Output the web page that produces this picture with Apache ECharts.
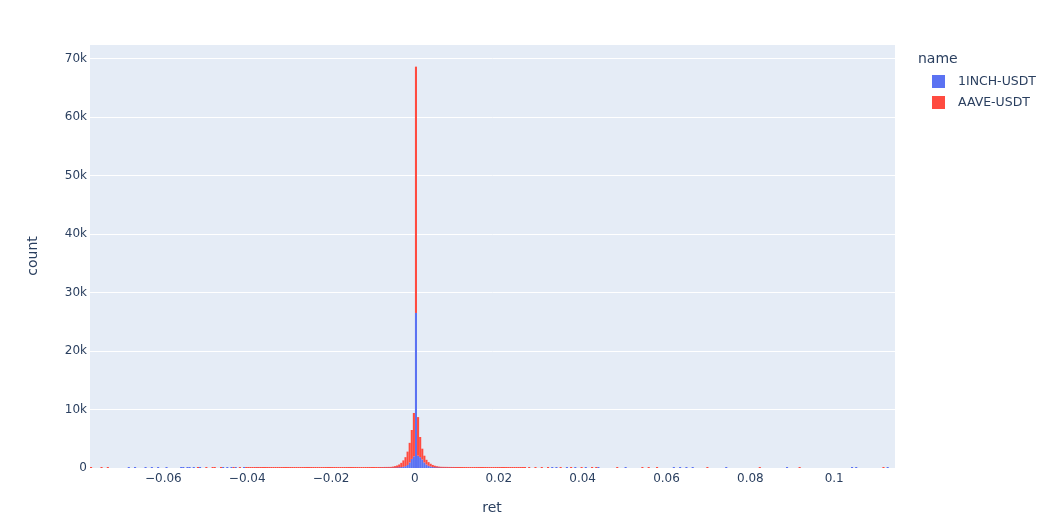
<!DOCTYPE html>
<html>
<head>
<meta charset="utf-8">
<script src="https://cdn.jsdelivr.net/npm/echarts@6/dist/echarts.min.js"></script>
<style>
html,body{margin:0;padding:0;background:#fff;}
#chart{width:1053px;height:523px;}
</style>
</head>
<body>
<div id="chart"></div>
<script>
// ---- data ----
const seriesNames = ['1INCH-USDT', 'AAVE-USDT'];
const binSize = 0.0005;
// core bins: bin index k covers [k*binSize, (k+1)*binSize), k = -20..20
const coreStartBin = -20;
const blueCore = [0, 0, 0, 5, 5, 10, 10, 15, 20, 30,
  40, 60, 90, 130, 200, 320, 520, 950, 1550, 2000,
  26500,
  2100, 1850, 1450, 950, 600, 380, 250, 150, 100, 70,
  50, 35, 25, 20, 15, 10, 8, 6, 5, 4];
const redCore = [60, 70, 80, 90, 105, 115, 130, 145, 170, 210,
  280, 370, 510, 750, 1100, 1530, 2280, 3350, 4950, 7400,
  42100,
  6600, 3450, 1850, 1150, 800, 620, 470, 370, 290, 230,
  190, 165, 145, 130, 115, 105, 92, 84, 75, 68];
// red shoulders (continuous low counts)
const redLeftStartBin = -80;
const redLeftShoulder = [1, 1, 1, 1, 2, 1, 1, 2, 2, 2,
  2, 2, 3, 3, 3, 3, 4, 4, 4, 5,
  5, 5, 6, 6, 6, 7, 7, 8, 8, 9,
  9, 10, 10, 11, 12, 12, 13, 14, 14, 15,
  16, 17, 18, 19, 20, 21, 22, 24, 25, 27,
  28, 30, 33, 35, 37, 40, 43, 46, 50, 55];
const redRightStartBin = 21;
const redRightShoulder = [62, 56, 51, 47, 43, 40, 37, 34, 31, 29,
  27, 25, 23, 21, 19, 18, 16, 15, 14, 12,
  11, 10, 9, 8, 7, 6, 5, 5, 4, 3, 3, 2];
// sparse tail bins (bin start ret, count)
const blueTailRet = [-0.0683, -0.0667, -0.0643, -0.0627, -0.0611, -0.0595, -0.0560, -0.0555,
  -0.0544, -0.0536, -0.0529, -0.0512, -0.0457, -0.0450, -0.0440, -0.0427, -0.0410,
  -0.0376, -0.0360,
  0.0325, 0.0335, 0.0360, 0.0380, 0.0405, 0.0435, 0.0500, 0.0615, 0.0631, 0.0647,
  0.0663, 0.0742, 0.0889, 0.1044, 0.1052, 0.1127];
const blueTailCount = [1, 1, 1, 1, 1, 1, 2, 1,
  1, 2, 1, 1, 2, 2, 3, 2, 3,
  3, 4,
  3, 2, 2, 2, 2, 1, 1, 1, 1, 1,
  1, 1, 1, 1, 1, 1];
const redTailRet = [-0.0774, -0.0750, -0.0731, -0.0520, -0.0496, -0.0484, -0.0476, -0.0464,
  -0.0433, -0.0417, -0.0405,
  0.0270, 0.0285, 0.0300, 0.0315, 0.0345, 0.0370, 0.0395, 0.0420, 0.0430,
  0.0480, 0.0544, 0.0556, 0.0575, 0.0698, 0.0821, 0.0917, 0.1119];
const redTailCount = [1, 1, 1, 1, 1, 1, 2, 2,
  2, 2, 3,
  2, 2, 2, 2, 2, 1, 1, 1, 1,
  1, 1, 1, 1, 1, 1, 1, 1];
const xTicks = [-0.06, -0.04, -0.02, 0, 0.02, 0.04, 0.06, 0.08, 0.1];
const yTicks = [0, 10000, 20000, 30000, 40000, 50000, 60000, 70000];

// ---- build bins ----
function addBins(map, startBin, counts) {
  counts.forEach((c, i) => { const k = startBin + i; map.set(k, (map.get(k) || 0) + c); });
}
function addTail(map, rets, counts) {
  rets.forEach((r, i) => { const k = Math.floor(r / binSize + 1e-9); map.set(k, (map.get(k) || 0) + counts[i]); });
}
const blueBins = new Map();
addBins(blueBins, coreStartBin, blueCore);
addTail(blueBins, blueTailRet, blueTailCount);
const redBins = new Map();
addBins(redBins, coreStartBin, redCore);
addBins(redBins, redLeftStartBin, redLeftShoulder);
addBins(redBins, redRightStartBin, redRightShoulder);
addTail(redBins, redTailRet, redTailCount);

const blueData = [];
blueBins.forEach((c, k) => { if (c > 0) blueData.push([k * binSize, (k + 1) * binSize, 0, c]); });
const redData = [];
redBins.forEach((c, k) => {
  if (c > 0) { const base = blueBins.get(k) || 0; redData.push([k * binSize, (k + 1) * binSize, base, base + c]); }
});

function renderBar(params, api) {
  const p0 = api.coord([api.value(0), api.value(2)]);
  const p1 = api.coord([api.value(1), api.value(3)]);
  let y = p1[1];
  let h = p0[1] - p1[1];
  if (h < 1) { h = 1; y = p0[1] - 1; }
  return {
    type: 'rect',
    shape: { x: p0[0], y: y, width: p1[0] - p0[0], height: h },
    style: { fill: api.visual('color') }
  };
}

const FONT = '"DejaVu Sans", Verdana, sans-serif';
const TXT = '#2a3f5f';
function fmtX(v) {
  const r = Math.round(v * 1000) / 1000;
  if (r === 0) return '0';
  return (r < 0 ? '\u2212' : '') + String(Math.abs(r));
}
function fmtY(v) { return v === 0 ? '0' : (Math.round(v / 1000) + 'k'); }

const chart = echarts.init(document.getElementById('chart'), null, { renderer: 'canvas' });
chart.setOption({
  animation: false,
  backgroundColor: '#fff',
  grid: { left: 90, right: 158, top: 45, bottom: 55, show: true, backgroundColor: '#E5ECF6', borderWidth: 0, containLabel: false },
  title: { text: 'name', left: 913, top: 47, textStyle: { fontFamily: FONT, fontSize: 14, fontWeight: 'normal', color: TXT } },
  legend: {
    orient: 'vertical', left: 927, top: 70, itemWidth: 13, itemHeight: 13, itemGap: 8, icon: 'rect',
    data: seriesNames,
    textStyle: { fontFamily: FONT, fontSize: 12.5, color: TXT, padding: [0, 0, 0, 8] }
  },
  xAxis: {
    type: 'value', min: -0.0775, max: 0.1145,
    axisLine: { show: false }, axisTick: { show: false }, splitLine: { show: false },
    axisLabel: { customValues: xTicks, formatter: fmtX, fontFamily: FONT, fontSize: 12, color: TXT, margin: 5 }
  },
  yAxis: {
    type: 'value', min: 0, max: 72300, interval: 10000,
    axisLine: { show: false }, axisTick: { show: false },
    splitLine: { show: true, showMaxLine: false, lineStyle: { color: '#fff', width: 1 } },
    axisLabel: { customValues: yTicks, formatter: fmtY, fontFamily: FONT, fontSize: 12, color: TXT, margin: 3 }
  },
  graphic: [
    { type: 'text', x: 492, y: 508, style: { text: 'ret', font: '14px ' + FONT, fill: TXT, align: 'center', verticalAlign: 'middle' } },
    { type: 'text', x: 33, y: 256, rotation: Math.PI / 2, style: { text: 'count', font: '14px ' + FONT, fill: TXT, align: 'center', verticalAlign: 'middle' } }
  ],
  series: [
    { name: seriesNames[0], type: 'custom', renderItem: renderBar, data: blueData, encode: { x: [0, 1], y: [2, 3] }, itemStyle: { color: '#5b72f2' } },
    { name: seriesNames[1], type: 'custom', renderItem: renderBar, data: redData, encode: { x: [0, 1], y: [2, 3] }, itemStyle: { color: '#ff4b40' } }
  ]
});
</script>
</body>
</html>
